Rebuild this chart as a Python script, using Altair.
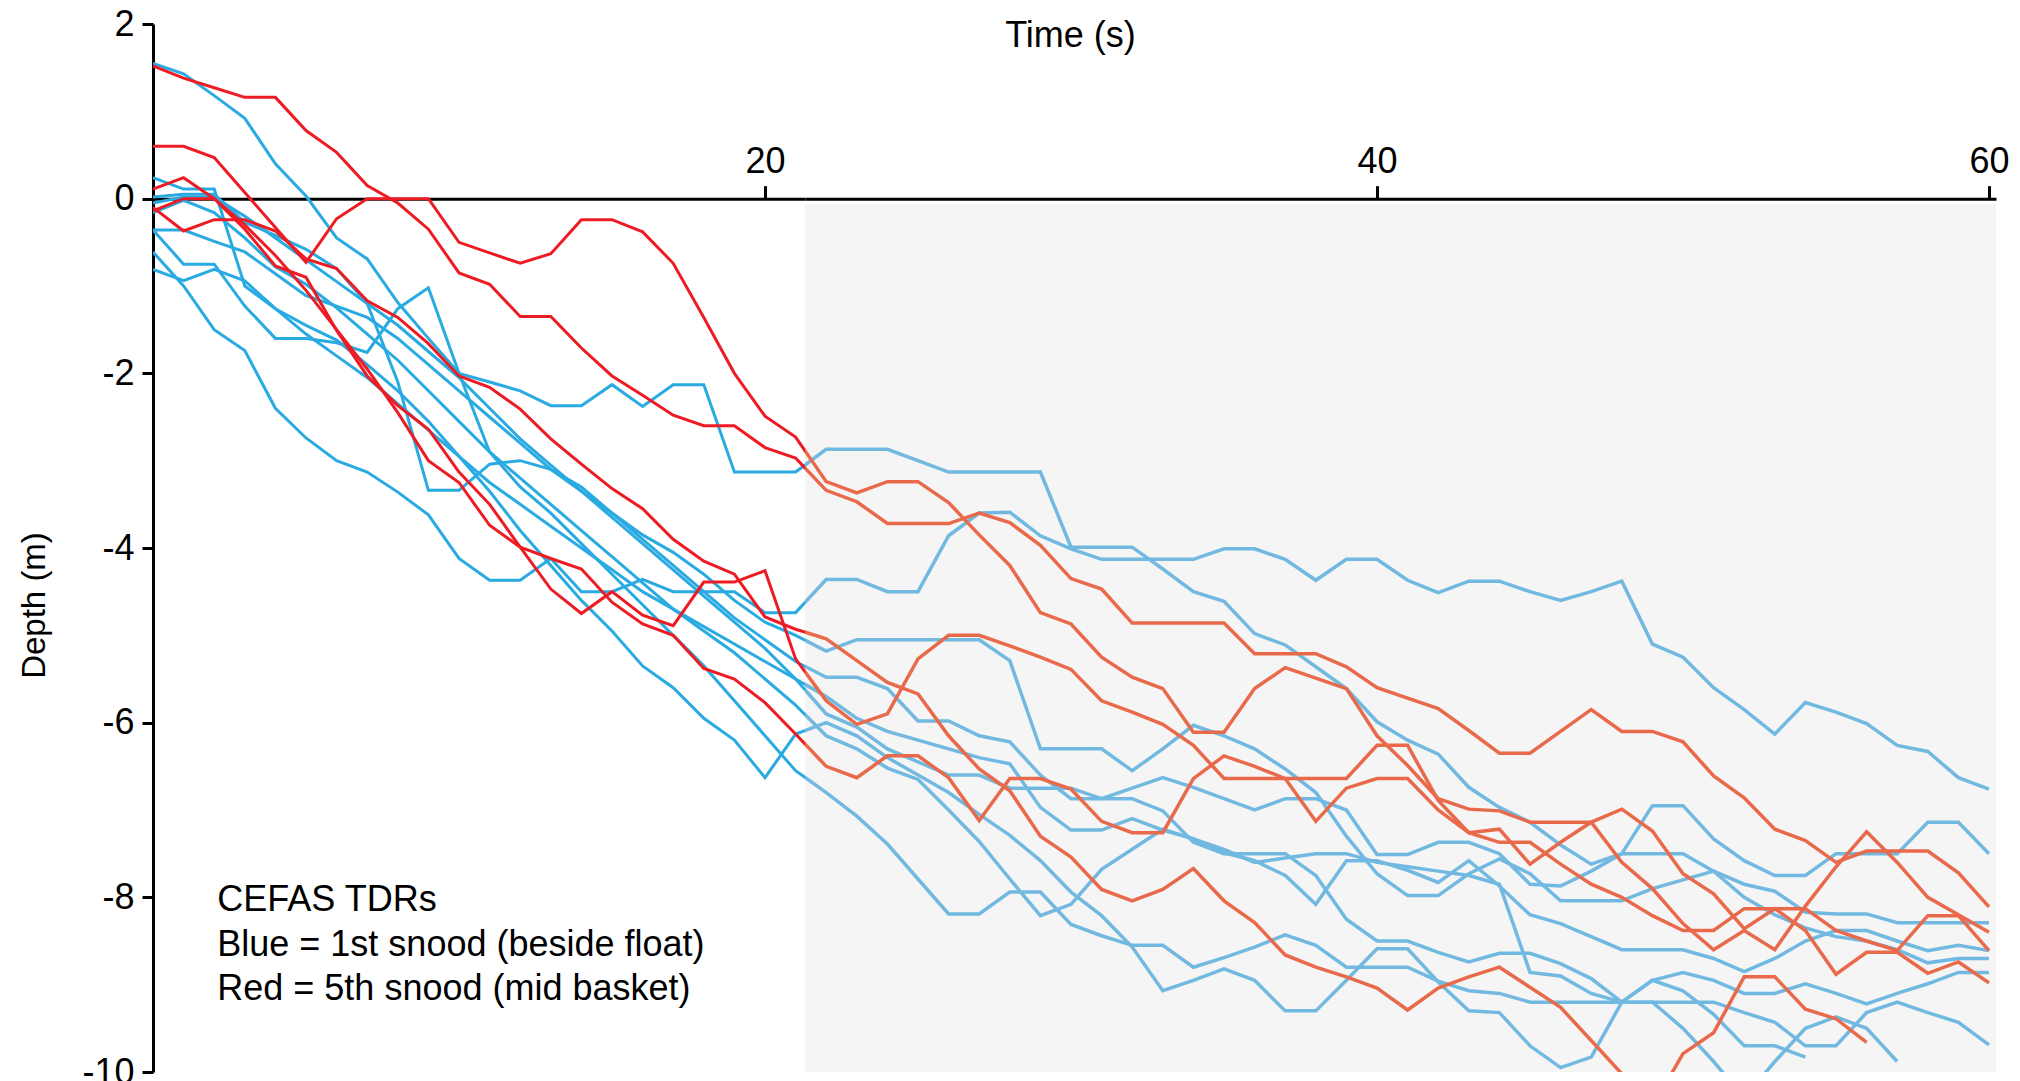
import altair as alt
import pandas as pd

# Depth (m) of each CEFAS TDR, read once per second from t = 0 to 60 s.
# None marks seconds after a record has stopped.
SECONDS = list(range(61))

RED_1 = [1.52, 1.38, 1.27, 1.16, 1.16, 0.78, 0.53, 0.15, -0.05, -0.35,
         -0.85, -0.98, -1.35, -1.35, -1.71, -2.03, -2.25, -2.48, -2.6, -2.6,
         -2.85, -2.97, -3.34, -3.47, -3.72, -3.72, -3.72, -3.6, -3.71, -3.97,
         -4.35, -4.47, -4.86, -4.86, -4.86, -4.86, -5.21, -5.21, -5.21, -5.36,
         -5.6, -5.72, -5.84, -6.09, -6.35, -6.35, -6.1, -5.85, -6.1, -6.1,
         -6.22, -6.61, -6.86, -7.22, -7.35, -7.6, -7.47, -7.47, -7.47, -7.72, -8.11]
RED_2 = [0.6, 0.6, 0.47, 0.07, -0.33, -0.73, -0.23, 0.0, 0.0, 0.0,
         -0.5, -0.62, -0.74, -0.63, -0.24, -0.24, -0.38, -0.74, -1.36, -2.0,
         -2.49, -2.73, -3.24, -3.37, -3.24, -3.24, -3.48, -3.85, -4.2, -4.74,
         -4.87, -5.25, -5.48, -5.61, -6.11, -6.11, -5.61, -5.37, -5.49, -5.61,
         -6.15, -6.49, -6.87, -6.99, -7.01, -7.14, -7.14, -7.14, -6.99, -7.24,
         -7.73, -7.96, -8.36, -8.13, -8.38, -8.88, -8.63, -8.63, -8.87, -8.74, -8.98]
RED_3 = [-0.14, 0.0, 0.0, -0.35, -0.77, -0.9, -1.51, -2.03, -2.37, -2.64,
         -3.13, -3.5, -3.99, -4.47, -4.75, -4.5, -4.77, -4.89, -4.39, -4.39,
         -4.26, -5.27, -5.75, -6.02, -5.9, -5.27, -5.0, -5.0, -5.12, -5.25,
         -5.39, -5.75, -5.88, -6.02, -6.26, -6.64, -6.64, -6.64, -6.64, -6.64,
         -6.26, -6.26, -6.89, -7.26, -7.37, -7.37, -7.62, -7.85, -8.0, -8.21,
         -8.38, -8.38, -8.13, -8.13, -8.13, -8.38, -8.5, -8.61, -8.21, -8.21, -8.61]
RED_4 = [0.11, 0.24, 0.0, -0.3, -0.65, -1.05, -1.5, -1.95, -2.45, -3.0,
         -3.25, -3.74, -3.99, -4.12, -4.24, -4.62, -4.87, -5.0, -5.38, -5.5,
         -5.77, -6.13, -6.5, -6.63, -6.38, -6.38, -6.63, -7.12, -6.64, -6.64,
         -6.76, -7.13, -7.26, -7.26, -6.64, -6.38, -6.5, -6.64, -7.13, -6.75,
         -6.64, -6.64, -7.0, -7.26, -7.22, -7.62, -7.37, -7.14, -7.6, -7.9,
         -8.3, -8.6, -8.38, -8.6, -8.1, -7.65, -7.25, -7.6, -8.0, -8.2, -8.4]
RED_5 = [-0.1, -0.37, -0.24, -0.24, -0.37, -0.69, -0.8, -1.17, -1.36, -1.66,
         -2.03, -2.16, -2.41, -2.75, -3.04, -3.32, -3.55, -3.9, -4.15, -4.3,
         -4.79, -4.93, -5.04, -5.29, -5.54, -5.67, -6.15, -6.53, -6.78, -7.3,
         -7.54, -7.91, -8.04, -7.91, -7.67, -8.04, -8.29, -8.66, -8.8, -8.91,
         -9.04, -9.29, -9.04, -8.91, -8.8, -9.03, -9.26, -9.64, -10.02, -10.4,
         -9.79, -9.55, -8.91, -8.91, -9.28, -9.39, -9.66, None, None, None, None]

BLUE_1 = [1.55, 1.43, 1.18, 0.92, 0.4, 0.03, -0.45, -0.69, -1.19, -1.6,
          -2.0, -2.1, -2.2, -2.37, -2.37, -2.13, -2.38, -2.13, -2.13, -3.13,
          -3.13, -3.13, -2.87, -2.87, -2.87, -3.0, -3.13, -3.13, -3.13, -3.13,
          -3.99, -3.99, -3.99, -4.24, -4.5, -4.61, -4.98, -5.11, -5.36, -5.61,
          -5.99, -6.2, -6.36, -6.74, -6.97, -7.14, -7.4, -7.62, -7.5, -6.95,
          -6.95, -7.33, -7.58, -7.75, -7.75, -7.5, -7.5, -7.5, -7.14, -7.14, -7.5]
BLUE_2 = [-0.61, -1.0, -1.5, -1.74, -2.4, -2.74, -3.0, -3.13, -3.36, -3.62,
          -4.12, -4.37, -4.37, -4.12, -4.5, -4.5, -4.36, -4.5, -4.5, -4.5,
          -4.74, -4.74, -4.36, -4.36, -4.5, -4.5, -3.86, -3.6, -3.59, -3.86,
          -4.01, -4.13, -4.13, -4.13, -4.13, -4.01, -4.01, -4.13, -4.37, -4.13,
          -4.13, -4.37, -4.51, -4.38, -4.38, -4.5, -4.6, -4.5, -4.38, -5.1,
          -5.25, -5.6, -5.85, -6.13, -5.77, -5.88, -6.01, -6.26, -6.33, -6.63, -6.76]
BLUE_3 = [0.24, 0.11, 0.11, -1.0, -1.26, -1.55, -1.8, -2.05, -2.35, -2.65,
          -2.95, -3.25, -3.5, -3.75, -4.0, -4.25, -4.5, -4.7, -4.9, -5.1,
          -5.3, -5.5, -5.7, -5.95, -6.1, -6.2, -6.3, -6.4, -6.47, -6.97,
          -7.23, -7.23, -7.1, -7.23, -7.33, -7.45, -7.6, -7.55, -7.5, -7.5,
          -7.6, -7.65, -7.7, -7.75, -7.85, -8.86, -8.9, -9.1, -9.2, -9.2,
          -9.2, -9.2, -9.32, -9.43, -9.7, -9.7, -9.32, -9.2, -9.32, -9.43, -9.69]
BLUE_4 = [-0.36, -0.36, -0.49, -0.61, -0.86, -1.11, -1.23, -1.36, -1.6, -1.9,
          -2.2, -2.5, -2.8, -3.1, -3.35, -3.6, -3.85, -4.05, -4.3, -4.6,
          -4.85, -5.0, -5.18, -5.05, -5.05, -5.05, -5.05, -5.05, -5.29, -6.3,
          -6.3, -6.3, -6.55, -6.3, -6.03, -6.15, -6.3, -6.53, -6.8, -7.3,
          -7.73, -7.98, -7.98, -7.73, -7.56, -7.73, -8.04, -8.04, -8.04, -7.9,
          -7.8, -7.7, -7.85, -7.93, -8.17, -8.19, -8.19, -8.29, -8.29, -8.29, -8.29]
BLUE_5 = [0.02, 0.05, 0.05, -0.27, -0.42, -0.58, -0.8, -1.2, -2.1, -3.34,
          -3.34, -3.04, -3.0, -3.1, -3.3, -3.6, -3.9, -4.2, -4.5, -4.8,
          -5.05, -5.3, -5.48, -5.48, -5.61, -5.98, -5.98, -6.15, -6.22, -6.6,
          -6.87, -6.87, -6.87, -7.01, -7.37, -7.5, -7.5, -7.5, -7.75, -8.25,
          -8.5, -8.5, -8.63, -8.74, -8.64, -8.64, -8.76, -8.93, -9.2, -8.95,
          -8.86, -8.95, -9.1, -9.1, -8.99, -9.1, -9.22, -9.1, -8.99, -8.86, -8.86]
BLUE_6 = [-0.05, 0.02, 0.02, -0.2, -0.45, -0.7, -0.95, -1.2, -1.45, -1.75,
          -2.05, -2.4, -2.75, -3.05, -3.35, -3.65, -3.95, -4.25, -4.55, -4.85,
          -5.15, -5.5, -5.9, -6.05, -6.3, -6.45, -6.6, -6.6, -6.75, -6.75,
          -6.75, -6.87, -6.75, -6.63, -6.74, -6.87, -7.0, -6.87, -6.87, -7.0,
          -7.51, -7.51, -7.37, -7.37, -7.5, -7.85, -7.87, -7.7, -7.5, -7.5,
          -7.5, -7.7, -8.0, -8.2, -8.35, -8.45, -8.5, -8.6, -8.75, -8.7, -8.7]
BLUE_7 = [-0.81, -0.94, -0.81, -0.94, -1.26, -1.45, -1.62, -1.9, -2.2, -2.55,
          -2.95, -3.35, -3.8, -4.2, -4.6, -4.95, -5.35, -5.6, -5.95, -6.2,
          -6.63, -6.13, -6.0, -6.15, -6.4, -6.6, -6.8, -7.05, -7.29, -7.58,
          -7.94, -8.21, -8.57, -9.07, -8.95, -8.82, -8.95, -9.3, -9.3, -8.95,
          -8.59, -8.59, -8.97, -9.3, -9.32, -9.7, -9.95, -9.83, -9.2, -8.95,
          -9.07, -9.34, -9.7, -9.7, -9.83, None, None, None, None, None, None]
BLUE_8 = [-0.36, -0.75, -0.75, -1.23, -1.6, -1.6, -1.65, -1.76, -1.26, -1.02,
          -2.0, -2.9, -3.3, -3.6, -3.95, -4.3, -4.65, -5.0, -5.35, -5.75,
          -6.15, -6.55, -6.8, -7.07, -7.39, -7.79, -8.19, -8.19, -7.94, -7.94,
          -8.31, -8.44, -8.55, -8.55, -8.8, -8.69, -8.57, -8.43, -8.55, -8.8,
          -8.8, -8.8, -8.96, -9.07, -9.1, -9.2, -9.2, -9.2, -9.2, -9.2,
          -9.5, -9.88, -10.3, -9.88, -9.5, -9.37, -9.5, -9.88, None, None, None]
BLUE_9 = [-0.16, -0.02, -0.16, -0.45, -0.78, -0.98, -1.25, -1.55, -1.85, -2.2,
          -2.55, -2.9, -3.2, -3.5, -3.8, -4.1, -4.4, -4.7, -4.95, -5.2,
          -5.5, -5.8, -6.15, -6.3, -6.52, -6.65, -7.0, -7.36, -7.79, -8.21,
          -8.08, -7.68, -7.45, -7.22, -7.33, -7.49, -7.58, -7.75, -8.08, -7.58,
          -7.58, -7.69, -7.83, -7.58, -7.87, -8.2, -8.3, -8.45, -8.6, -8.6,
          -8.6, -8.7, -8.85, -8.7, -8.5, -8.38, -8.38, -8.5, -8.61, -8.55, -8.61]

BLUE_TAGS = {"B1": BLUE_1, "B2": BLUE_2, "B3": BLUE_3, "B4": BLUE_4, "B5": BLUE_5,
             "B6": BLUE_6, "B7": BLUE_7, "B8": BLUE_8, "B9": BLUE_9}
RED_TAGS = {"R1": RED_1, "R2": RED_2, "R3": RED_3, "R4": RED_4, "R5": RED_5}

NOTE_LINES = ["CEFAS TDRs", "Blue = 1st snood (beside float)", "Red = 5th snood (mid basket)"]
NOTE_TIME = 2.1
NOTE_DEPTHS = [-8.16, -8.67, -9.17]

SHADE_TOP = -0.06      # shaded block sits just under the surface line
Y_TICKS = [2, 0, -2, -4, -6, -8, -10]

# layout
PX_PER_S = 30.6
PLOT_H = 1048
LEFT_W = 652
RIGHT_W = 1191
LEFT_END = LEFT_W / PX_PER_S          # where the shaded block begins
RIGHT_END = LEFT_END + RIGHT_W / PX_PER_S
SURFACE_OFFSET = -PLOT_H * 2 / 12     # x axis drawn along depth 0

FONT = "Liberation Sans"
BLUE_DARK, RED_DARK = "#29ABE2", "#ED1C24"
BLUE_LIGHT, RED_LIGHT = "#72B9E1", "#E9694B"
SHADE = "#F5F5F5"


def long_table(tags, lo, hi):
    rows = []
    for tag, depths in tags.items():
        for t, d in zip(SECONDS, depths):
            if d is not None and lo <= t <= hi:
                rows.append({"tag": tag, "time": t, "depth": d})
    return pd.DataFrame(rows)


y_scale = alt.Scale(domain=[-10, 2], nice=False, zero=False)
left_x = alt.Scale(domain=[0, LEFT_END], nice=False, zero=False)
right_x = alt.Scale(domain=[LEFT_END, RIGHT_END], nice=False, zero=False)

x_axis_style = dict(orient="top", offset=SURFACE_OFFSET, domainWidth=3, domainColor="black",
                    tickWidth=3, tickColor="black", tickSize=13, labelFontSize=36,
                    labelFont=FONT, labelColor="black", labelPadding=13,
                    labelBaseline="alphabetic", labelFlush=False, labelOverlap=False,
                    grid=False)

left_axis_x = alt.Axis(values=[20], title=None, **x_axis_style)
right_axis_x = alt.Axis(values=[40, 60], title="Time (s)", titleFont=FONT, titleFontSize=36,
                        titleFontWeight="normal", titleColor="black",
                        titleX=1072 - 155 - LEFT_W, titleY=46 - 198,
                        titleBaseline="alphabetic", titleAlign="center", **x_axis_style)

y_axis = alt.Axis(values=Y_TICKS, title="Depth (m)", orient="left", domainWidth=3,
                  domainColor="black", tickWidth=3, tickColor="black", tickSize=11,
                  labelFontSize=36, labelFont=FONT, labelColor="black", labelPadding=8,
                  labelExpr="toString(datum.value)", labelFlush=False, labelOverlap=False,
                  titleFont=FONT, titleFontSize=33, titleFontWeight="normal",
                  titleColor="black", titleAngle=270, titleX=36 - 155, titleY=605 - 24,
                  titleAlign="center", titleBaseline="middle", grid=False)


def lines(tags, lo, hi, color, width, xscale, xaxis, yaxis):
    return alt.Chart(long_table(tags, lo, hi)).mark_line(
        color=color, strokeWidth=width, clip=True, strokeJoin="miter"
    ).encode(
        x=alt.X("time:Q", scale=xscale, axis=xaxis),
        y=alt.Y("depth:Q", scale=y_scale, axis=yaxis),
        detail="tag:N",
        order="time:Q",
    )


# left panel: before the shaded period
left_blue = lines(BLUE_TAGS, 0, 22, BLUE_DARK, 3, left_x, left_axis_x, y_axis)
left_red = lines(RED_TAGS, 0, 22, RED_DARK, 3, left_x, left_axis_x, y_axis)

notes = alt.Chart(pd.DataFrame({"time": [NOTE_TIME] * 3, "depth": NOTE_DEPTHS,
                                "text": NOTE_LINES})).mark_text(
    align="left", baseline="alphabetic", font=FONT, fontSize=36, color="black"
).encode(
    x=alt.X("time:Q", scale=left_x, axis=left_axis_x),
    y=alt.Y("depth:Q", scale=y_scale, axis=y_axis),
    text="text:N",
)

left = alt.layer(left_blue, left_red, notes).properties(width=LEFT_W, height=PLOT_H)

# right panel: shaded period
shade = alt.Chart(pd.DataFrame({"t0": [LEFT_END], "t1": [RIGHT_END],
                                "d0": [SHADE_TOP], "d1": [-10]})).mark_rect(
    color=SHADE
).encode(
    x=alt.X("t0:Q", scale=right_x, axis=right_axis_x),
    x2="t1:Q",
    y=alt.Y("d0:Q", scale=y_scale, axis=None),
    y2="d1:Q",
)
right_blue = lines(BLUE_TAGS, 21, 60, BLUE_LIGHT, 3.5, right_x, right_axis_x, None)
right_red = lines(RED_TAGS, 21, 60, RED_LIGHT, 3.5, right_x, right_axis_x, None)

right = alt.layer(shade, right_blue, right_red).properties(width=RIGHT_W, height=PLOT_H)

chart = alt.hconcat(left, right, spacing=0).resolve_scale(
    x="independent", y="independent"
).resolve_axis(x="independent", y="independent").properties(
    padding={"left": 18, "top": 6, "right": 0, "bottom": 0},
    background="white",
).configure_view(stroke=None)

chart.save("out.html", embed_options={"renderer": "svg", "actions": False})
